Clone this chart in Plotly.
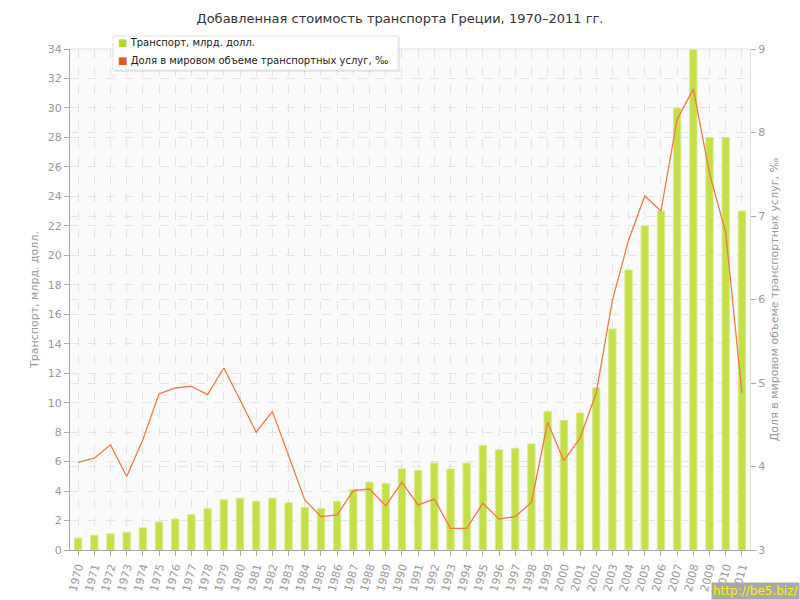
import plotly.graph_objects as go

years = [str(y) for y in range(1970, 2012)]
transport_bn_usd = [0.8, 1.0, 1.1, 1.2, 1.5, 1.9, 2.1, 2.4, 2.8, 3.4,
                    3.5, 3.3, 3.5, 3.2, 2.9, 2.8, 3.3, 4.1, 4.6, 4.5,
                    5.5, 5.4, 5.9, 5.5, 5.9, 7.1, 6.8, 6.9, 7.2, 9.4,
                    8.8, 9.3, 11.0, 15.0, 19.0, 22.0, 23.0, 30.0, 34.0, 28.0,
                    28.0, 23.0]
world_share_permille = [4.05, 4.10, 4.26, 3.88, 4.32, 4.87, 4.94, 4.96, 4.86, 5.18,
                        4.80, 4.41, 4.66, 4.14, 3.60, 3.40, 3.42, 3.71, 3.73, 3.53,
                        3.81, 3.54, 3.61, 3.26, 3.26, 3.56, 3.37, 3.40, 3.57, 4.53,
                        4.07, 4.34, 4.88, 5.99, 6.71, 7.24, 7.06, 8.16, 8.52, 7.51,
                        6.80, 4.88]

title_text = "Добавленная стоимость транспорта Греции, 1970–2011 гг."
name_bars = "Транспорт, млрд. долл."
name_line = "Доля в мировом объеме транспортных услуг, ‰"

BAR = "#c4df48"
LINE = "#ee7a4c"
GRAY = "#999999"
FONT = "DejaVu Sans"

W, H = 800, 600
L, R, T, B = 70, 50, 49, 50
PW, PH = W - L - R, H - T - B


def px(x):
    return (x - L) / PW


def py(y):
    return (H - B - y) / PH


fig = go.Figure()
fig.add_trace(go.Bar(x=years, y=transport_bn_usd, name=name_bars, width=0.45,
                     marker=dict(color=BAR, line=dict(color="#d6eb88", width=1)),
                     showlegend=False, yaxis="y"))
fig.add_trace(go.Scatter(x=years, y=world_share_permille, name=name_line, mode="lines",
                         line=dict(color=LINE, width=1.3), showlegend=False, yaxis="y2"))

grid = dict(showgrid=True, gridcolor="#e4e4e4", griddash="dash", gridwidth=1)

# legend box with soft shadow
bx0, bx1, by0, by1 = 113, 398, 36, 70
shapes = [
    dict(type="line", xref="paper", yref="paper", x0=0, x1=1, y0=1, y1=1,
         line=dict(color="#e0e0e0", width=1)),
    dict(type="rect", xref="paper", yref="paper", x0=px(bx0 + 1), x1=px(bx1 + 2),
         y0=py(by0 + 1), y1=py(by1 + 2), fillcolor="rgba(0,0,0,0.07)", line=dict(width=0)),
    dict(type="rect", xref="paper", yref="paper", x0=px(bx0), x1=px(bx1),
         y0=py(by0), y1=py(by1), fillcolor="white", line=dict(color="#e2e2e2", width=1)),
]

legend_items = [(name_bars, "#b7d829", 43), (name_line, "#e05a28", 60)]
annotations = []
for txt, col, yy in legend_items:
    annotations.append(dict(
        text=f"<span style='color:{col}'>■</span> {txt}", xref="paper", yref="paper",
        x=px(116), y=py(yy), xanchor="left", yanchor="middle", showarrow=False,
        font=dict(family=FONT, size=10, color="#222222")))

annotations.append(dict(text="http://be5.biz/", xref="paper", yref="paper",
                        x=px(800), y=py(600), xanchor="right", yanchor="bottom",
                        showarrow=False, bgcolor="#a8a8a8", borderpad=1,
                        font=dict(family=FONT, size=12, color="#ffee00")))

fig.update_layout(
    width=W, height=H,
    margin=dict(l=L, r=R, t=T, b=B, autoexpand=False),
    paper_bgcolor="white", plot_bgcolor="#fafafa",
    font=dict(family=FONT, size=11, color=GRAY),
    title=dict(text=title_text, x=0.5, xanchor="center", y=1 - 18 / 600, yanchor="middle",
               font=dict(family=FONT, size=13, color="#333333")),
    showlegend=False,
    xaxis=dict(type="category", range=[-0.5, 41.5], tickangle=-75, automargin=False,
               showline=True, linecolor="#aaaaaa", ticks="outside", ticklen=5, tickcolor="#aaaaaa",
               tickfont=dict(size=11, color=GRAY), layer="above traces", **grid),
    yaxis=dict(range=[0, 34], dtick=2, automargin=False, showline=True, linecolor="#aaaaaa",
               ticks="outside", ticklen=5, tickcolor="#aaaaaa", zeroline=False,
               title=dict(text=name_bars, font=dict(size=11, color=GRAY), standoff=6),
               layer="above traces", **grid),
    yaxis2=dict(range=[3, 9], dtick=1, overlaying="y", side="right", automargin=False,
                showline=True, linecolor="#e0e0e0", ticks="outside", ticklen=5, tickcolor="#aaaaaa",
                zeroline=False,
                title=dict(text=name_line, font=dict(size=11, color=GRAY), standoff=6),
                layer="above traces", **grid),
    shapes=shapes,
    annotations=annotations,
)

fig.write_html("out.html", config={"displayModeBar": False},
               post_script="document.body.style.margin='0';")
